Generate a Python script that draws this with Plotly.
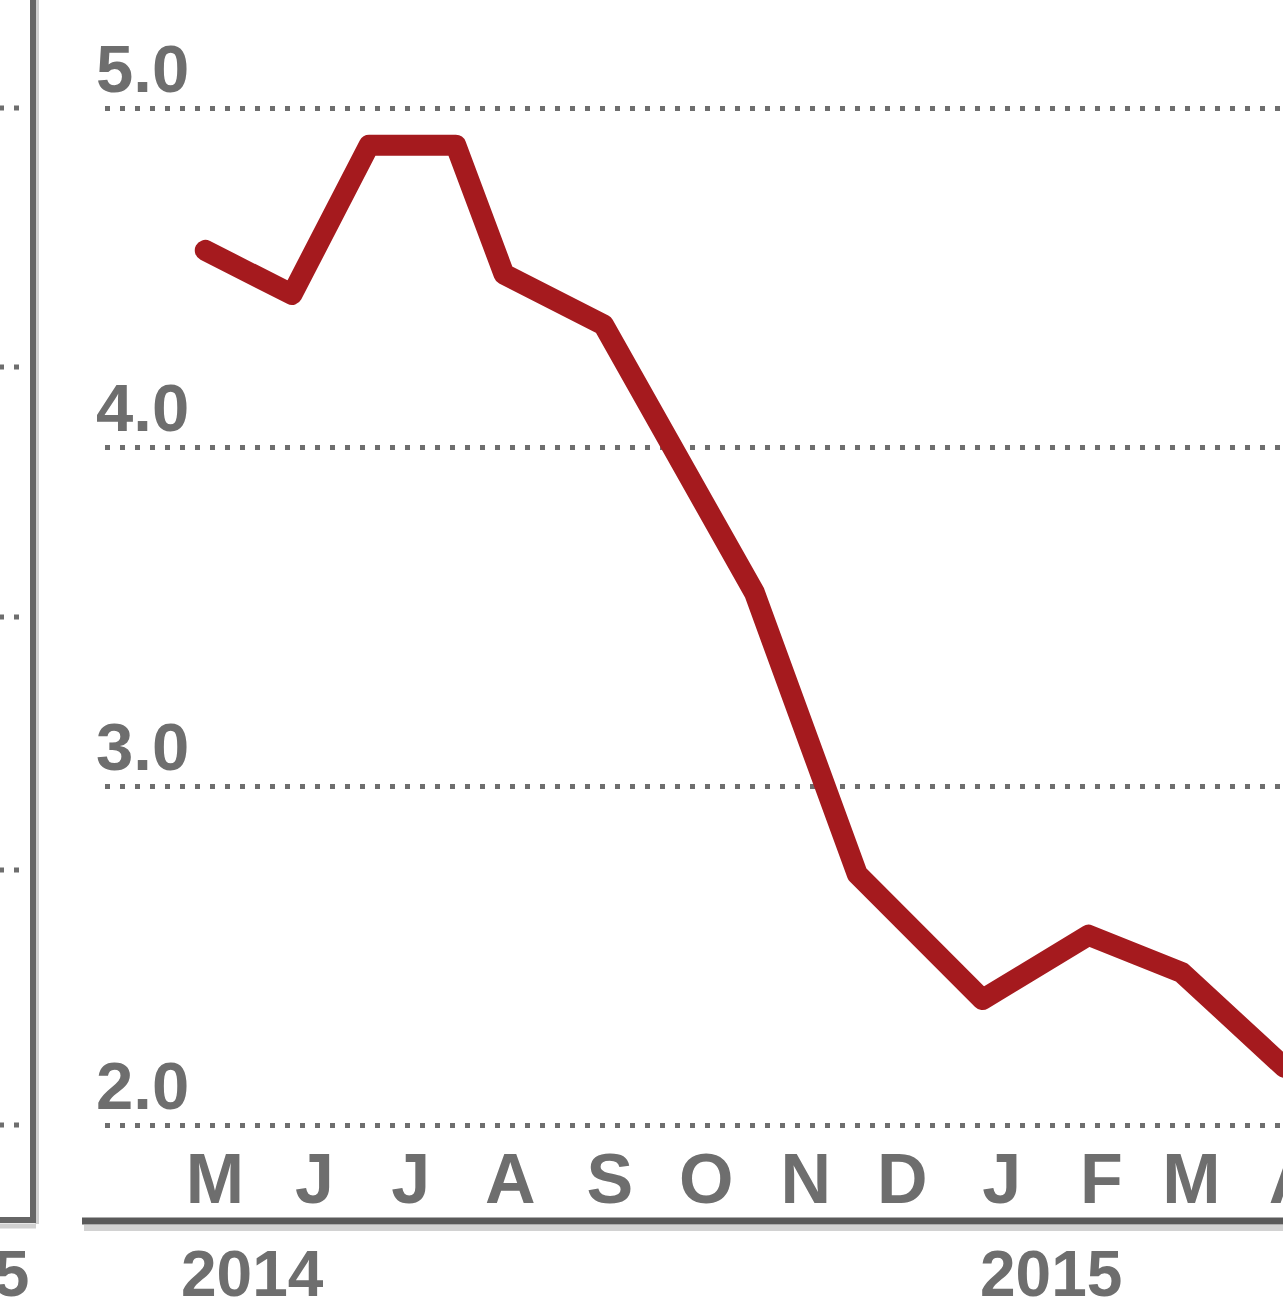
import plotly.graph_objects as go

# ---- data ----
dates = ["2014-05-12", "2014-06-08", "2014-07-02", "2014-07-29", "2014-08-13",
         "2014-09-13", "2014-10-30", "2014-12-01", "2015-01-09", "2015-02-11",
         "2015-03-12", "2015-04-13"]
values = [4.58, 4.45, 4.89, 4.89, 4.51, 4.36, 3.57, 2.74, 2.37, 2.56, 2.45, 2.17]

month_ticks = ["2014-05-15", "2014-06-15", "2014-07-15", "2014-08-15", "2014-09-15",
               "2014-10-15", "2014-11-15", "2014-12-15", "2015-01-15", "2015-02-15",
               "2015-03-15", "2015-04-16"]
month_labels = ["M", "J", "J", "A", "S", "O", "N", "D", "J", "F", "M", "A"]
y_ticks = [2.0, 3.0, 4.0, 5.0]
y_labels = ["2.0", "3.0", "4.0", "5.0"]
year_ticks = ["2014-05-15", "2015-01-15"]
year_labels = ["2014", "2015"]

# ---- layout geometry (pixels) ----
# the visible window is 1283 px wide; the chart continues a little past its right edge
W, H = 1310, 1316
L, R, T, B = 105, 0, 0, 171
PW, PH = W - L - R, H - T - B


def xp(px):
    return (px - L) / PW


def yp(py):
    return (T + PH - py) / PH


TEXT = "#6e6e6e"
GRID = "#6e6e6e"
FONT = "Liberation Sans, Arial, Helvetica, sans-serif"
WEIGHT = "bold"

fig = go.Figure()
fig.add_trace(go.Scatter(
    x=dates, y=values, mode="lines",
    line=dict(color="#a51a1e", width=21),
    hoverinfo="skip", showlegend=False,
))

annotations = []
for v, t in zip(y_ticks, y_labels):
    annotations.append(dict(
        x=xp(94), xref="paper", y=v, yref="y", text=t, showarrow=False,
        xanchor="left", yanchor="bottom",
        font=dict(family=FONT, size=67, color=TEXT, weight=WEIGHT),
    ))
for d, t, sh in zip(year_ticks, year_labels, [-36, -24]):
    annotations.append(dict(
        x=d, xref="x", y=yp(1274), yref="paper", text=t, showarrow=False,
        xanchor="left", yanchor="middle", xshift=sh,
        font=dict(family=FONT, size=64, color=TEXT, weight=WEIGHT),
    ))
# year label of the neighbouring (cropped) panel
annotations.append(dict(
    x=xp(31), xref="paper", y=yp(1274), yref="paper", text="2015", showarrow=False,
    xanchor="right", yanchor="middle",
    font=dict(family=FONT, size=64, color=TEXT, weight=WEIGHT),
))

DOTS = "5px,10px"
shapes = []
# neighbouring panel remnants: dotted gridlines, frame
for gy in [108, 367, 617, 870, 1125]:
    shapes.append(dict(type="line", xref="paper", yref="paper",
                       x0=xp(-1), x1=xp(25), y0=yp(gy), y1=yp(gy),
                       line=dict(color=GRID, width=5, dash=DOTS)))
shapes.append(dict(type="line", xref="paper", yref="paper",
                   x0=xp(37), x1=xp(37), y0=yp(1224), y1=yp(-5),
                   line=dict(color="#d0d0d0", width=4)))
shapes.append(dict(type="line", xref="paper", yref="paper",
                   x0=xp(33), x1=xp(33), y0=yp(1223), y1=yp(-5),
                   line=dict(color="#666666", width=6)))
shapes.append(dict(type="line", xref="paper", yref="paper",
                   x0=xp(-5), x1=xp(36), y0=yp(1226), y1=yp(1226),
                   line=dict(color="#d0d0d0", width=5)))
shapes.append(dict(type="line", xref="paper", yref="paper",
                   x0=xp(-5), x1=xp(36), y0=yp(1220), y1=yp(1220),
                   line=dict(color="#666666", width=6)))
# main baseline with soft shadow
shapes.append(dict(type="line", xref="paper", yref="paper",
                   x0=xp(84), x1=1.0, y0=yp(1228), y1=yp(1228),
                   line=dict(color="#d2d2d2", width=6)))
shapes.append(dict(type="line", xref="paper", yref="paper",
                   x0=xp(82), x1=1.0, y0=yp(1221), y1=yp(1221),
                   line=dict(color="#5a5a5a", width=7)))

fig.update_layout(
    width=W, height=H,
    margin=dict(l=L, r=R, t=T, b=B, pad=0, autoexpand=False),
    paper_bgcolor="white", plot_bgcolor="white",
    showlegend=False,
    annotations=annotations,
    shapes=shapes,
    xaxis=dict(
        type="date",
        range=["2014-04-10 18:40", "2015-04-20 23:00"],
        tickmode="array", tickvals=month_ticks, ticktext=month_labels,
        tickfont=dict(family=FONT, size=70, color=TEXT, weight=WEIGHT),
        ticks="", ticklabelstandoff=-13, ticklabeloverflow="allow",
        automargin=False,
        showgrid=False, zeroline=False, showline=False,
        fixedrange=True,
    ),
    yaxis=dict(
        range=[2 - (PH - 1125) * 3 / 1017, 5 + 108 * 3 / 1017],
        tickmode="array", tickvals=y_ticks,
        showticklabels=False, ticks="", automargin=False,
        showgrid=True, gridcolor=GRID, gridwidth=5, griddash=DOTS,
        zeroline=False, showline=False, fixedrange=True,
    ),
)

post = (
    "document.body.style.margin='0';"
    "document.body.style.overflow='hidden';"
    "document.documentElement.style.overflow='hidden';"
    "var gd=document.getElementById('{plot_id}');"
    "gd.querySelectorAll('path.js-line').forEach(function(p){"
    "p.style.strokeLinejoin='round';p.style.strokeLinecap='round';});"
)
fig.write_html("out.html", config={"displayModeBar": False}, post_script=post)
